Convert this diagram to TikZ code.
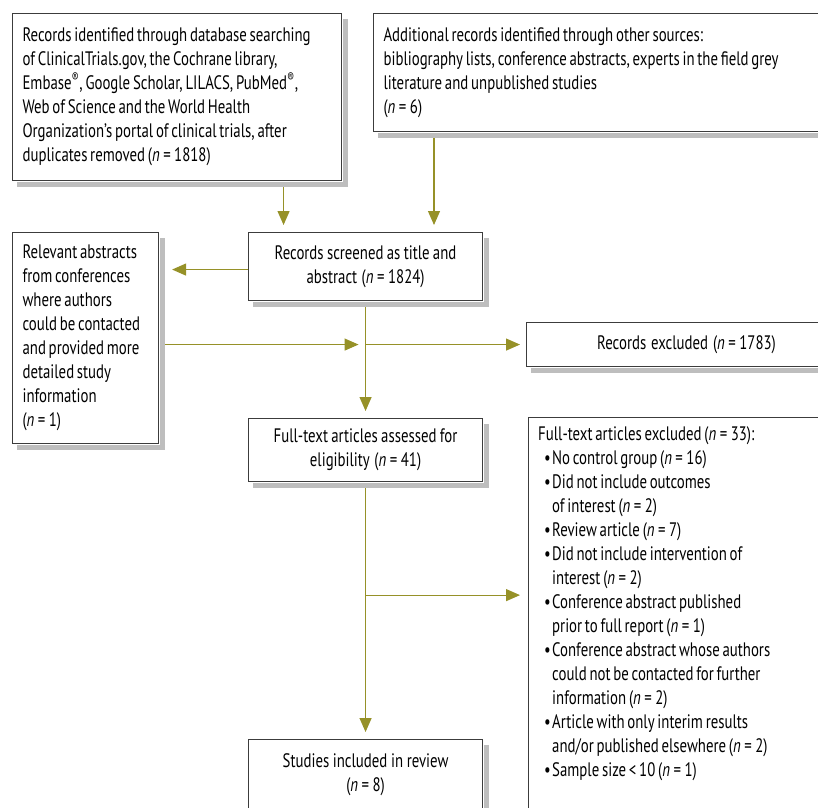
\documentclass[tikz,border=0pt]{standalone}
\usepackage{fontspec}
\setmainfont{PT Sans}[FakeStretch=0.76,WordSpace=0.7]
\usetikzlibrary{arrows.meta,calc}
\definecolor{flowline}{RGB}{150,145,40}
\definecolor{boxline}{RGB}{60,60,60}
\definecolor{shadowgray}{RGB}{190,190,190}
\hyphenpenalty=10000
\newcommand{\ncnt}[1]{(\textit{n}\kern3.5pt=\kern3.5pt#1)}
\newcommand{\plainsp}{\spaceskip=0pt\xspaceskip=0pt\relax}
\newcommand{\bul}{\hspace*{6pt}\makebox[8pt][l]{\textbullet}}
\newcommand{\ind}{\hspace*{14pt}}
\begin{document}
\begin{tikzpicture}[x=1pt,y=-1pt,>={Triangle[length=14pt,width=12pt]},
	font=\fontsize{19.5}{24}\selectfont,
	box/.style={draw=boxline,line width=1.1pt,fill=white,inner xsep=10pt,inner ysep=6pt},
	shade edge/.style={draw=shadowgray,line cap=butt},
	flow/.style={draw=flowline,line width=1.2pt,->,shorten >=7pt}]
	\useasboundingbox (0,0) rectangle (818,807);
	\node[box,anchor=north west,text width=309pt,minimum height=167pt,align=left] (recdb) at (12,13)
	{\plainsp Records identified through database searching\\
	of ClinicalTrials.gov, the Cochrane library,\\
	Embase\textsuperscript{®}, Google Scholar, LILACS, PubMed\textsuperscript{®},\\
	Web of Science and the World Health\\
	Organization’s portal of clinical trials, after\\
	duplicates removed \ncnt{1818}};
	\node[box,anchor=north west,text width=440pt,minimum height=118pt,align=left] (recoth) at (373,13)
	{\plainsp Additional records identified through other sources:\\
	bibliography lists, conference abstracts, experts in the field grey\\
	literature and unpublished studies\\
	\ncnt{6}};
	\node[box,anchor=north west,text width=214pt,minimum height=68pt,align=center] (screen) at (248,232)
	{\plainsp Records screened as title and\\ abstract \ncnt{1824}};
	\node[box,anchor=north west,text width=126pt,minimum height=211pt,align=left] (relabs) at (12,232)
	{\plainsp Relevant abstracts\\ from conferences\\ where authors\\ could be contacted\\
	and provided more\\ detailed study\\ information\\ \ncnt{1}};
	\node[box,anchor=north west,text width=300pt,minimum height=44pt,align=center] (recexc) at (526,322)
	{\plainsp Records excluded \ncnt{1783}};
	\node[box,anchor=north west,text width=214pt,minimum height=63pt,align=center] (fulltext) at (248,418)
	{\plainsp Full-text articles assessed for\\ eligibility \ncnt{41}};
	\node[box,anchor=north west,minimum width=320pt,minimum height=420pt] (fullexc) at (528,417) {};
	\node[anchor=north west,inner sep=0pt,text width=300pt,align=left] (fullexctxt)
	at ([xshift=10pt,yshift=-9pt]fullexc.north west)
	{\plainsp Full-text articles excluded \ncnt{33}:\\
	\bul No control group \ncnt{16}\\
	\bul Did not include outcomes\\
	\ind of interest \ncnt{2}\\
	\bul Review article \ncnt{7}\\
	\bul Did not include intervention of\\
	\ind interest \ncnt{2}\\
	\bul Conference abstract published\\
	\ind prior to full report \ncnt{1}\\
	\bul Conference abstract whose authors\\
	\ind could not be contacted for further\\
	\ind information \ncnt{2}\\
	\bul Article with only interim results\\
	\ind and/or published elsewhere \ncnt{2}\\
	\bul Sample size < 10 \ncnt{1}};
	\node[box,anchor=north west,text width=214pt,minimum height=70pt,align=center] (included) at (248,739)
	{\plainsp Studies included in review\\ \ncnt{8}};
	\foreach \bx in {recdb,recoth,screen,relabs,recexc,fulltext,fullexc,included}{
		\draw[shade edge,line width=5pt] ([shift={(3pt,-6pt)}]\bx.north east) -- ([shift={(3pt,-1pt)}]\bx.south east);
		\draw[shade edge,line width=5.5pt] ([shift={(5pt,-3.5pt)}]\bx.south west) -- ([shift={(5.5pt,-3.5pt)}]\bx.south east);
	}
	\coordinate (split1) at (screen.south |- recexc.west);
	\coordinate (split2) at ([yshift=-113pt]fulltext.south);
	\draw[flow,shorten <=6pt] ([xshift=106.5pt]recdb.south) -- ([xshift=106.5pt]recdb.south |- screen.north);
	\draw[flow,shorten <=6pt] ([xshift=61pt]recoth.south west) -- ([xshift=61pt]recoth.south west |- screen.north);
	\draw[flow,shorten >=13pt] ([yshift=-3pt]screen.west) -- ([yshift=-3pt]relabs.east |- screen.west);
	\draw[flow,shorten <=6pt] (screen.south) -- (fulltext.north);
	\draw[flow,shorten <=6pt] (relabs.east |- split1) -- (split1);
	\draw[flow,shorten >=6pt] (split1) -- (recexc.west);
	\draw[flow,shorten <=6pt] (fulltext.south) -- (included.north);
	\draw[flow,shorten >=8pt] (split2) -- (split2 -| fullexc.west);
\end{tikzpicture}
\end{document}
